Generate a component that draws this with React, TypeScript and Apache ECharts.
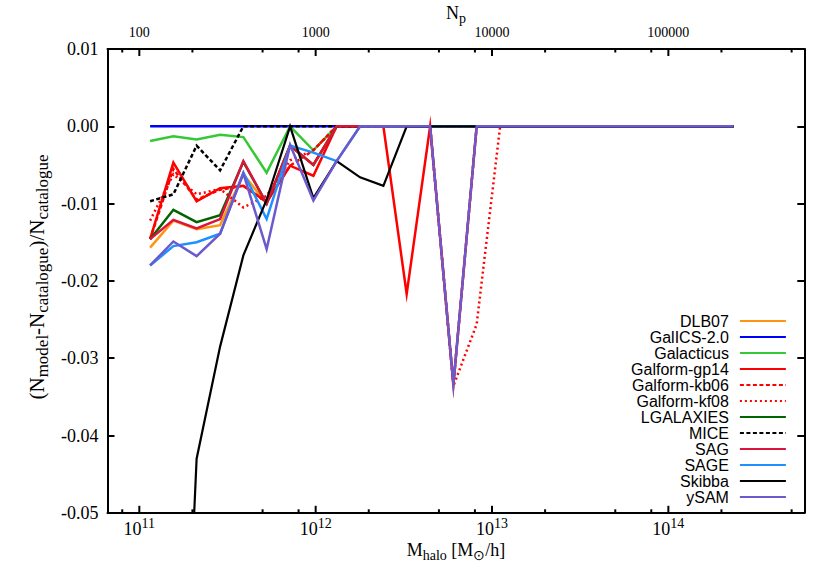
import React, { useEffect, useRef } from 'react';
import * as echarts from 'echarts';

// Halo mass bin centres [M_sun/h]
const massBins = [
  1.151e11, 1.56e11, 2.113e11, 2.871e11, 3.89e11, 5.272e11, 7.161e11, 9.705e11,
  1.315e12, 1.786e12, 2.421e12, 3.281e12, 4.457e12, 6.039e12, 8.185e12, 1.112e13,
  1.507e13, 2.042e13, 2.773e13, 3.758e13, 5.093e13, 6.918e13, 9.376e13, 1.271e14,
  1.726e14, 2.339e14,
];

const Z = 0;
const dlb07 = [-0.0157, -0.0122, -0.0133, -0.0128, -0.0062, -0.01, -0.0025, -0.005, Z, Z, Z, Z, Z, Z, Z, Z, Z, Z, Z, Z, Z, Z, Z, Z, Z, Z];
const galics = [Z, Z, Z, Z, Z, Z, Z, Z, Z, Z, Z, Z, Z, Z, Z, Z, Z, Z, Z, Z, Z, Z, Z, Z, Z, Z];
const galacticus = [-0.0019, -0.0013, -0.0017, -0.0011, -0.0014, -0.006, Z, -0.0031, Z, Z, Z, Z, Z, Z, Z, Z, Z, Z, Z, Z, Z, Z, Z, Z, Z, Z];
const gp14 = [-0.0146, -0.0047, -0.0097, -0.008, -0.0077, -0.0098, -0.0051, -0.0064, Z, Z, Z, -0.0217, Z, -0.0334, Z, Z, Z, Z, Z, Z, Z, Z, Z, Z, Z, Z];
const kb06 = [-0.0146, -0.0055, -0.0095, -0.0082, -0.0077, -0.0098, -0.0051, -0.0031, Z, Z, Z, Z, Z, -0.0334, Z, Z, Z, Z, Z, Z, Z, Z, Z, Z, Z, Z];
const kf08 = [-0.0122, -0.0062, -0.0088, -0.0081, -0.0105, -0.009, -0.0044, -0.0031, Z, Z, Z, Z, Z, -0.0336, -0.0256, Z, Z, Z, Z, Z, Z, Z, Z, Z, Z, Z];
const lgalaxies = [-0.0146, -0.0108, -0.0124, -0.0115, -0.0046, -0.01, -0.0025, -0.005, Z, Z, Z, Z, Z, Z, Z, Z, Z, Z, Z, Z, Z, Z, Z, Z, Z, Z];
const mice = [-0.0097, -0.0088, -0.0025, -0.0057, Z, Z, Z, Z, Z, Z, Z, Z, Z, Z, Z, Z, Z, Z, Z, Z, Z, Z, Z, Z, Z, Z];
const sag = [-0.0146, -0.0121, -0.0132, -0.012, -0.0045, -0.01, -0.0025, -0.005, Z, Z, Z, Z, Z, Z, Z, Z, Z, Z, Z, Z, Z, Z, Z, Z, Z, Z];
const sage = [-0.018, -0.0155, -0.015, -0.0139, -0.006, -0.012, -0.0025, -0.0034, -0.0045, Z, Z, Z, Z, Z, Z, Z, Z, Z, Z, Z, Z, Z, Z, Z, Z, Z];
const skibba = [null, -0.11, -0.043, -0.0285, -0.0167, -0.0095, Z, -0.0093, -0.0045, -0.0066, -0.0077, Z, Z, Z, Z, Z, Z, Z, Z, Z, Z, Z, Z, Z, Z, Z];
const ysam = [-0.018, -0.0149, -0.0168, -0.0139, -0.0061, -0.0159, -0.0024, -0.0096, -0.0045, Z, Z, Z, Z, -0.0334, Z, Z, Z, Z, Z, Z, Z, Z, Z, Z, Z, Z];

const seriesDefs = [
  { name: 'DLB07', values: dlb07, color: '#ff9412', dash: 'solid' },
  { name: 'GalICS-2.0', values: galics, color: '#0000ff', dash: 'solid' },
  { name: 'Galacticus', values: galacticus, color: '#35c935', dash: 'solid' },
  { name: 'Galform-gp14', values: gp14, color: '#ff0000', dash: 'solid' },
  { name: 'Galform-kb06', values: kb06, color: '#ff0000', dash: [4, 2.5] },
  { name: 'Galform-kf08', values: kf08, color: '#ff0000', dash: [2, 3] },
  { name: 'LGALAXIES', values: lgalaxies, color: '#006400', dash: 'solid' },
  { name: 'MICE', values: mice, color: '#000000', dash: [4, 2.5] },
  { name: 'SAG', values: sag, color: '#dc143c', dash: 'solid' },
  { name: 'SAGE', values: sage, color: '#1e90ff', dash: 'solid' },
  { name: 'Skibba', values: skibba, color: '#000000', dash: 'solid' },
  { name: 'ySAM', values: ysam, color: '#6a5acd', dash: 'solid' },
];

// x-axis tick marks (halo mass); major ones carry the labels
const majorTicks = [1e11, 1e12, 1e13, 1e14];
const minorTicks = [8e10, 2e11, 5e11, 8e11, 2e12, 5e12, 8e12, 2e13, 5e13, 8e13, 2e14, 5e14];
const particleMass = 1e9;

const X_MIN = 6.6e10;
const X_MAX = 5.9e14;
const SERIF = 'Liberation Serif, Times New Roman, serif';
const SANS = 'Liberation Sans, Arial, sans-serif';

const GRID = { left: 107.5, top: 49, width: 696.8, height: 463.8 };

function isDecade(v: number) {
  const e = Math.log10(v);
  return Math.abs(e - Math.round(e)) < 1e-6;
}

function buildOption() {
  const lineSeries = seriesDefs.map((s) => ({
    name: s.name,
    type: 'line',
    xAxisIndex: 0,
    yAxisIndex: 0,
    symbol: 'none',
    showSymbol: false,
    connectNulls: false,
    data: massBins.map((m, i) => [m, s.values[i]]),
    lineStyle: { color: s.color, width: s.name === 'Skibba' ? 2.2 : 2.5, type: s.dash, join: 'miter', miterLimit: 12 },
    itemStyle: { color: s.color },
    emphasis: { disabled: true },
  }));

  const tickSeries = {
    name: 'xticks',
    type: 'custom',
    xAxisIndex: 0,
    yAxisIndex: 0,
    silent: true,
    z: 5,
    encode: { x: 0, y: 1 },
    data: [...majorTicks.map((v) => [v, 1]), ...minorTicks.map((v) => [v, 0])],
    renderItem: (params: any, api: any) => {
      const x = api.coord([api.value(0), -0.05])[0];
      const cs = params.coordSys;
      const len = api.value(1) === 1 ? 7 : 3.5;
      const bottom = cs.y + cs.height;
      const st = { stroke: '#000', lineWidth: 2 };
      return {
        type: 'group',
        children: [
          { type: 'line', shape: { x1: x, y1: bottom, x2: x, y2: bottom - len }, style: st },
          { type: 'line', shape: { x1: x, y1: cs.y, x2: x, y2: cs.y + len }, style: st },
        ],
      };
    },
  };

  return {
    animation: false,
    backgroundColor: '#ffffff',
    grid: [{ ...GRID, containLabel: false }],
    xAxis: [
      {
        gridIndex: 0, type: 'log', position: 'bottom', min: X_MIN, max: X_MAX, logBase: 10,
        axisLine: { show: true, onZero: false, lineStyle: { color: '#000', width: 2 } },
        axisTick: { show: false },
        axisLabel: {
          formatter: (v: number) => (isDecade(v) ? '10{sup|' + Math.round(Math.log10(v)) + '}' : ''),
          showMinLabel: false, showMaxLabel: false,
          fontFamily: SERIF, fontSize: 18, color: '#000', margin: 4, lineHeight: 24,
          rich: { sup: { fontFamily: SERIF, fontSize: 14, lineHeight: 14, verticalAlign: 'top', color: '#000' } },
        },
        splitLine: { show: false },
        minorTick: { show: false },
      },
      {
        gridIndex: 0, type: 'log', position: 'top', min: X_MIN, max: X_MAX, logBase: 10,
        axisLine: { show: true, onZero: false, lineStyle: { color: '#000', width: 2 } },
        axisTick: { show: false },
        axisLabel: {
          formatter: (v: number) => (isDecade(v) ? String(Math.round(v / particleMass)) : ''),
          showMinLabel: false, showMaxLabel: false,
          fontFamily: SERIF, fontSize: 14, color: '#000', margin: 10,
        },
        splitLine: { show: false },
      },
    ],
    yAxis: [
      {
        gridIndex: 0, type: 'value', position: 'left', min: -0.05, max: 0.01, interval: 0.01,
        axisLine: { show: true, onZero: false, lineStyle: { color: '#000', width: 2 } },
        axisTick: { show: true, inside: true, length: 7, lineStyle: { color: '#000', width: 2 } },
        axisLabel: {
          formatter: (v: number) => (Math.abs(v) < 1e-9 ? '0.00' : v.toFixed(2)),
          fontFamily: SERIF, fontSize: 18, color: '#000', margin: 9,
        },
        splitLine: { show: false },
      },
      {
        gridIndex: 0, type: 'value', position: 'right', min: -0.05, max: 0.01, interval: 0.01,
        axisLine: { show: true, onZero: false, lineStyle: { color: '#000', width: 2 } },
        axisTick: { show: true, inside: true, length: 7, lineStyle: { color: '#000', width: 2 } },
        axisLabel: { show: false },
        splitLine: { show: false },
      },
    ],
    legend: {
      show: true,
      orient: 'vertical',
      align: 'right',
      right: 43,
      top: 313,
      padding: 0,
      itemWidth: 46,
      itemHeight: 10,
      itemGap: 0,
      itemStyle: { color: 'rgba(0,0,0,0)', borderColor: 'rgba(0,0,0,0)', borderWidth: 0 },
      lineStyle: { width: 2.2 },
      textStyle: { fontFamily: SANS, fontSize: 16, color: '#000', lineHeight: 14, padding: [0, 6, 0, 0] },
      data: seriesDefs.map((s) => s.name),
      selectedMode: false,
    },
    graphic: [
      {
        type: 'text', x: 456, y: 13, silent: true,
        style: {
          text: 'N{sub|p}', fontFamily: SERIF, fontSize: 18, fill: '#000', align: 'center', verticalAlign: 'middle', lineHeight: 24,
          rich: { sub: { fontFamily: SERIF, fontSize: 14, lineHeight: 14, verticalAlign: 'bottom', fill: '#000' } },
        },
      },
      {
        type: 'text', x: 456, y: 550, silent: true,
        style: {
          text: 'M{sub|halo} [M{sub|⊙}/h]', fontFamily: SERIF, fontSize: 18, fill: '#000', align: 'center', verticalAlign: 'middle', lineHeight: 24,
          rich: { sub: { fontFamily: SERIF, fontSize: 14, lineHeight: 14, verticalAlign: 'bottom', fill: '#000' } },
        },
      },
      {
        type: 'text', x: 37, y: 277, rotation: Math.PI / 2, silent: true,
        style: {
          text: '(N{sub|model}-N{sub|catalogue})/N{sub|catalogue}', fontFamily: SERIF, fontSize: 21, fill: '#000', align: 'center', verticalAlign: 'middle', lineHeight: 28,
          rich: { sub: { fontFamily: SERIF, fontSize: 17, lineHeight: 17, verticalAlign: 'bottom', fill: '#000' } },
        },
      },
    ],
    series: [...lineSeries, tickSeries],
  };
}

export default function App() {
  const ref = useRef<HTMLDivElement>(null);
  useEffect(() => {
    if (!ref.current) return;
    const chart = echarts.init(ref.current, null, { renderer: 'svg' });
    chart.setOption(buildOption() as any);
    return () => chart.dispose();
  }, []);
  return <div ref={ref} style={{ position: 'fixed', left: 0, top: 0, width: 830, height: 581, background: '#fff' }} />;
}
